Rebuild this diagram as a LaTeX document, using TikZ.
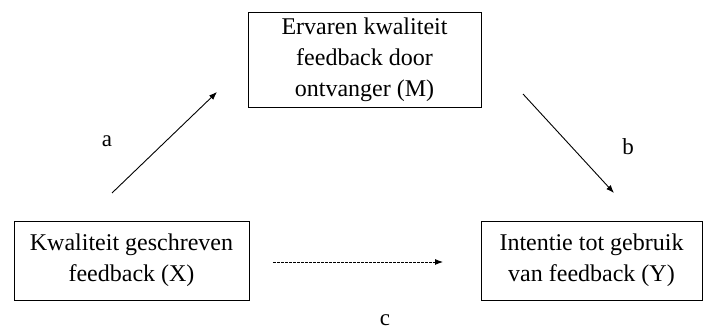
\documentclass[tikz,border=0pt]{standalone}
\usepackage{fontspec}
\setmainfont{Liberation Serif}
\usetikzlibrary{arrows.meta}
\begin{document}
\begin{tikzpicture}[x=1pt,y=-1pt,
  varbox/.style={draw, line width=0.9pt, align=center, inner sep=0pt,
    font=\fontsize{24}{31}\selectfont},
  path/.style={line width=0.9pt, -{Latex[length=8pt,width=6pt]}},
  lbl/.style={font=\fontsize{23}{26}\selectfont, inner sep=0pt}]
  \useasboundingbox (0,0) rectangle (704,328);

  % variables
  \node[varbox, minimum width=233pt, minimum height=95pt] (M) at (364.5,59.5)
    {Ervaren kwaliteit\\feedback door\\ontvanger (M)};
  \node[varbox, minimum width=235pt, minimum height=79pt] (X) at (131.5,260.5)
    {Kwaliteit geschreven\\feedback (X)};
  \node[varbox, minimum width=221pt, minimum height=79pt] (Y) at (591.5,260.5)
    {Intentie tot gebruik\\van feedback (Y)};

  % path end points
  \coordinate (a0) at (112,193);
  \coordinate (a1) at (217,92);
  \coordinate (b0) at (523,94);
  \coordinate (b1) at (614,193);
  \coordinate (c0) at (273,262);
  \coordinate (c1) at (443,262);

  \draw[path] (a0) -- (a1);
  \draw[path] (b0) -- (b1);
  \draw[path, dash pattern=on 2.5pt off 1.5pt] (c0) -- (c1);

  % path labels
  \node[lbl, anchor=base] (la) at (107,147) {a};
  \node[lbl, anchor=base] (lb) at (628,155) {b};
  \node[lbl, anchor=base] (lc) at (385,326) {c};
\end{tikzpicture}
\end{document}
